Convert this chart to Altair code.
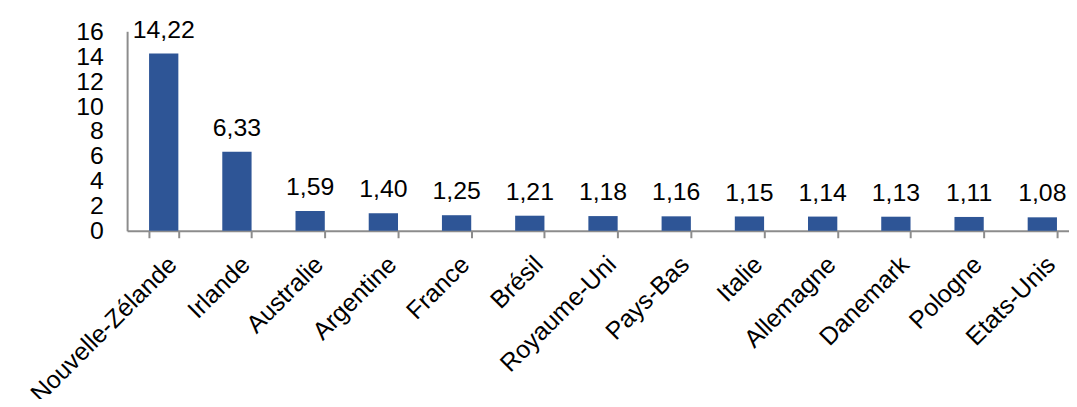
import altair as alt
import pandas as pd

countries = ["Nouvelle-Zélande", "Irlande", "Australie", "Argentine", "France", "Brésil",
             "Royaume-Uni", "Pays-Bas", "Italie", "Allemagne", "Danemark", "Pologne", "Etats-Unis"]
values = [14.22, 6.33, 1.59, 1.40, 1.25, 1.21, 1.18, 1.16, 1.15, 1.14, 1.13, 1.11, 1.08]
y_ticks = [0, 2, 4, 6, 8, 10, 12, 14, 16]

df = pd.DataFrame({"pays": countries, "valeur": values})

FONT = "Liberation Sans"
GRAY = "#8c8c8c"
FS = 25

x = alt.X("pays:N", sort=countries, title=None,
          scale=alt.Scale(range=[0, 959], paddingInner=0.6, paddingOuter=0.3),
          axis=alt.Axis(labelAngle=-45, labelAlign="right", labelBaseline="top",
                        labelFontSize=FS, labelFont=FONT, labelColor="black",
                        labelPadding=14, tickBand="extent", tickSize=7, tickColor=GRAY,
                        domainColor=GRAY, domainWidth=2, tickWidth=2, labelOverlap=False,
                        labelBound=False, labelLimit=0))
y = alt.Y("valeur:Q", title=None,
          scale=alt.Scale(domain=[0, 16], nice=False),
          axis=alt.Axis(values=y_ticks, grid=False, ticks=False, labelPadding=24,
                        labelFontSize=FS, labelFont=FONT, labelColor="black", labelOverlap=False,
                        labelBound=False, domainColor=GRAY, domainWidth=2))

bars = alt.Chart(df).mark_bar(color="#2E5596").encode(x=x, y=y)
labels = alt.Chart(df).transform_calculate(
    lab="replace(format(datum.valeur, '.2f'), '.', ',')"
).mark_text(baseline="alphabetic", dy=-16, fontSize=FS, font=FONT, color="black").encode(
    x=x, y=y, text="lab:N")

chart = alt.layer(bars, labels).properties(
    width=941, height=201,
    autosize=alt.AutoSizeParams(type="none"),
    padding={"left": 120, "top": 22, "right": 8, "bottom": 168},
).configure_view(stroke=None).configure_axisY(labelOverlap=False)

chart.save("out.html", embed_options={"renderer": "svg", "actions": False})
